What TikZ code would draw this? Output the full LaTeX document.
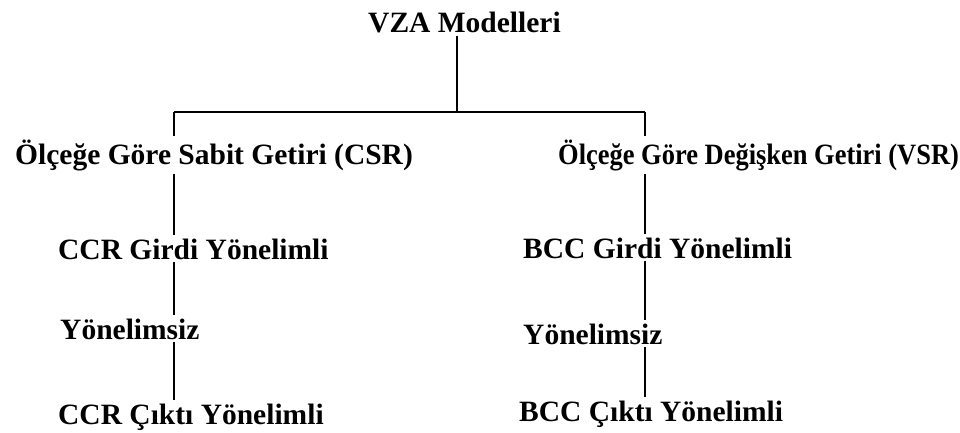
\documentclass[tikz,border=0pt]{standalone}
\usepackage{graphicx}
\usepackage{fontspec}
\setmainfont{Liberation Serif}
\begin{document}
\begin{tikzpicture}[x=1pt,y=-1pt,
  lbl/.style={anchor=base west,inner xsep=0pt,inner ysep=3pt,font=\fontsize{29.5}{34}\selectfont\bfseries},
  conn/.style={line width=1.6pt}]
\useasboundingbox (0,0) rectangle (960,432);
\node[lbl] (top) at (368,32) {VZA Modelleri};
\node[lbl] (csr) at (15,164) {Ölçeğe Göre Sabit Getiri (CSR)};
\node[lbl] (vsr) at (558,164) {\scalebox{0.897}[1]{Ölçeğe Göre Değişken Getiri (VSR)}};
\node[lbl] (ccr1) at (58,259) {CCR Girdi Yönelimli};
\node[lbl] (yon1) at (60,339) {Yönelimsiz};
\node[lbl] (ccr2) at (58,424) {CCR Çıktı Yönelimli};
\node[lbl] (bcc1) at (523,258) {BCC Girdi Yönelimli};
\node[lbl] (yon2) at (523,344) {Yönelimsiz};
\node[lbl] (bcc2) at (519,421) {BCC Çıktı Yönelimli};
\coordinate (bar) at (457,112);
\coordinate (barL) at (174,112);
\coordinate (barR) at (645,112);
\draw[conn] (top.south -| bar) -- (bar);
\draw[conn] (barL) -- (barR);
\draw[conn] (barL) -- (csr.north -| barL);
\draw[conn] (csr.south -| barL) -- (ccr1.north -| barL);
\draw[conn] (ccr1.south -| barL) -- (yon1.north -| barL);
\draw[conn] (yon1.south -| barL) -- (ccr2.north -| barL);
\draw[conn] (barR) -- (vsr.north -| barR);
\draw[conn] (vsr.south -| barR) -- (bcc1.north -| barR);
\draw[conn] (bcc1.south -| barR) -- (yon2.north -| barR);
\draw[conn] (yon2.south -| barR) -- (bcc2.north -| barR);
\end{tikzpicture}
\end{document}
